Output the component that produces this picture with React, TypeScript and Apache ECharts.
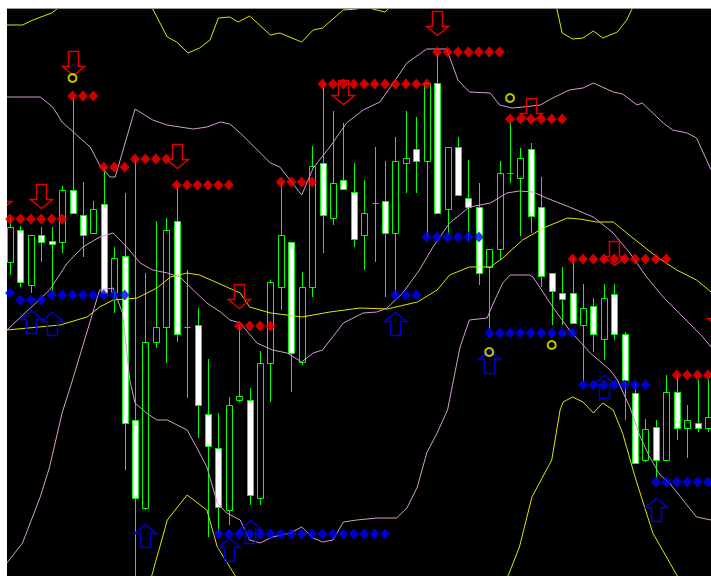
import React, { useEffect, useRef } from "react";
import * as echarts from "echarts";

// Bars: [open, close, low, high] (price units), one per bar index 0..67
const candles: number[][] = [
  [314, 349, 301, 358], [346, 294, 289, 350], [291, 341, 283, 341], [341, 334, 314, 349],
  [335, 332, 284, 349], [334, 386, 323, 390], [386, 363, 363, 479], [361, 341, 319, 394],
  [343, 367, 343, 375], [372, 283, 281, 409], [284, 318, 263, 329], [320, 153, 106, 383],
  [156, 78, -14, 416], [68, 234, 66, 303], [234, 249, 228, 355], [249, 346, 213, 358],
  [355, 242, 234, 391], [249, 249, 178, 306], [251, 171, 138, 268], [162, 130, 39, 217],
  [128, 69, 43, 163], [66, 171, 51, 179], [176, 180, 174, 251], [176, 81, 71, 188],
  [78, 213, 71, 225], [213, 294, 174, 296], [289, 341, 266, 394], [334, 223, 184, 334],
  [214, 289, 211, 304], [289, 410, 279, 430], [413, 361, 323, 493], [358, 393, 351, 465],
  [396, 387, 387, 453], [384, 337, 329, 413], [341, 363, 306, 396], [373, 373, 314, 429],
  [375, 343, 279, 415], [343, 415, 281, 439], [413, 418, 383, 465], [427, 415, 383, 459],
  [415, 493, 339, 493], [493, 363, 363, 523], [367, 429, 341, 429], [429, 381, 381, 439],
  [378, 369, 334, 416], [369, 303, 291, 393], [309, 327, 246, 327], [327, 403, 316, 415],
  [403, 403, 393, 453], [398, 418, 340, 428], [427, 360, 343, 433], [369, 300, 289, 399],
  [303, 285, 251, 303], [283, 277, 251, 309], [283, 253, 253, 318], [251, 268, 193, 292],
  [270, 242, 224, 278], [237, 278, 216, 292], [282, 242, 236, 292], [242, 196, 156, 244],
  [183, 113, 113, 193], [116, 147, 114, 157], [149, 116, 98, 156], [116, 184, 116, 201],
  [184, 148, 136, 201], [148, 156, 118, 171], [153, 148, 144, 196], [148, 159, 144, 196],
];

// Band lines: [bar index, price]
const purpleUpper: number[][] = [
  [-0.3, 479], [2.9, 479], [4.1, 469], [5.0, 454], [6.4, 441], [7.7, 429], [8.6, 411], [9.6, 399],
  [10.1, 399], [12.0, 467], [13.7, 456], [15.1, 451], [16.3, 449], [17.6, 447], [18.9, 449],
  [20.2, 454], [21.1, 452], [22.1, 443], [25.0, 413], [25.9, 409], [28.0, 381], [29.1, 408],
  [30.7, 429], [32.3, 453], [33.9, 466], [35.5, 474], [36.8, 493], [38.1, 513], [40.0, 527],
  [41.9, 527], [43.0, 496], [44.1, 484], [46.1, 483], [47.0, 471], [48.2, 468], [49.2, 469],
  [50.9, 471], [52.1, 478], [53.7, 486], [55.0, 488], [56.0, 493], [57.9, 484], [58.8, 482],
  [60.2, 471], [60.7, 473], [62.7, 453], [63.6, 446], [65.0, 443], [65.9, 438], [67.3, 406],
];
const purpleMiddle: number[][] = [
  [-0.3, 246], [3.8, 286], [5.5, 313], [7.0, 329], [8.6, 339], [9.9, 343], [11.2, 329],
  [12.5, 313], [13.7, 306], [15.1, 303], [16.3, 299], [17.6, 286], [18.9, 273], [20.2, 264],
  [21.1, 256], [22.1, 253], [23.7, 233], [25.2, 226], [26.6, 223], [28.0, 214], [29.1, 223],
  [30.0, 226], [32.0, 253], [33.9, 263], [35.2, 264], [36.2, 268], [37.7, 283], [39.3, 306],
  [40.6, 329], [42.2, 353], [44.1, 369], [46.1, 373], [47.7, 383], [48.9, 385], [50.2, 384],
  [51.5, 378], [53.7, 369], [56.0, 359], [57.9, 343], [59.5, 323], [61.1, 299], [62.7, 279],
  [64.6, 259], [66.5, 239], [67.3, 229],
];
const purpleLower: number[][] = [
  [-0.3, 13], [1.2, 33], [2.9, 79], [3.8, 109], [5.0, 163], [6.0, 196], [8.6, 286], [9.9, 288],
  [10.8, 263], [11.5, 196], [12.0, 173], [13.1, 163], [14.1, 156], [15.1, 156], [17.0, 146],
  [17.9, 129], [18.9, 109], [19.9, 73], [20.8, 63], [22.1, 56], [23.0, 36], [24.0, 33],
  [25.2, 39], [26.9, 43], [28.0, 49], [29.1, 38], [30.0, 34], [31.0, 36], [32.0, 54],
  [33.3, 56], [35.2, 58], [37.1, 58], [38.1, 68], [39.1, 89], [40.0, 123], [41.0, 143],
  [42.0, 166], [43.2, 229], [44.1, 256], [45.8, 258], [46.4, 273], [47.3, 293], [48.0, 301],
  [49.9, 301], [50.2, 299], [52.1, 269], [53.7, 246], [55.7, 223], [57.6, 206], [58.3, 196],
  [59.5, 169], [60.5, 139], [61.4, 119], [62.4, 101], [63.3, 93], [64.6, 76], [65.9, 59],
  [67.3, 56],
];
const yellowUpper: number[][] = [
  [-0.3, 551], [1.2, 551], [2.2, 556], [4.0, 563], [4.5, 567], [6.7, 581], [9.6, 586],
  [12.0, 581], [13.7, 567], [15.1, 539], [16.0, 534], [17.1, 523], [18.2, 528], [19.2, 536],
  [20.0, 558], [21.1, 559], [21.9, 554], [23.0, 560], [25.0, 541], [25.9, 543], [28.0, 534],
  [29.1, 546], [30.0, 548], [32.0, 566], [33.3, 567], [34.1, 571], [34.8, 567], [36.0, 564],
  [36.3, 567], [40.3, 596], [47.0, 596], [50.9, 581], [52.5, 567], [53.0, 543], [54.0, 537],
  [55.0, 538], [56.0, 545], [56.9, 538], [58.3, 544], [59.2, 556], [59.7, 567], [64.3, 596],
  [67.3, 606],
];
const yellowMiddle: number[][] = [
  [-0.3, 246], [4.8, 251], [7.4, 259], [8.6, 269], [9.9, 276], [12.2, 278], [14.1, 288],
  [15.4, 299], [17.0, 303], [18.2, 301], [20.8, 289], [22.1, 283], [23.0, 269], [25.0, 263],
  [26.6, 261], [28.0, 259], [30.7, 264], [33.6, 268], [36.2, 267], [39.1, 274], [41.0, 286],
  [42.2, 301], [44.1, 309], [46.1, 309], [47.3, 318], [49.2, 336], [51.2, 348], [53.5, 358],
  [54.7, 357], [56.3, 354], [57.9, 354], [59.8, 338], [62.1, 319], [64.0, 306], [65.9, 296],
  [67.3, 284],
];
const yellowLower: number[][] = [
  [-0.3, -59], [8.6, -64], [12.5, -24], [13.6, 0], [15.1, 56], [17.0, 81], [18.9, 66],
  [19.9, 29], [21.1, 9], [21.4, 4], [23.0, -24], [27.8, -34], [37.4, -24], [44.1, -24],
  [47.8, 0], [48.9, 29], [50.1, 79], [52.0, 116], [52.8, 166], [53.1, 174], [54.0, 179],
  [55.0, 174], [56.0, 163], [56.9, 173], [57.9, 166], [58.8, 143], [60.0, 99], [61.7, 43],
  [64.0, 1], [67.3, -44],
];

// Level markers: [first bar, last bar, price]
const resistanceLevels: number[][] = [
  [0, 5, 357], [6, 8, 480], [9, 11, 409], [12, 15, 417], [16, 21, 391], [22, 25, 250],
  [26, 29, 394], [30, 40, 492], [41, 47, 524], [48, 53, 457], [54, 63, 317], [64, 67, 201],
];
const supportLevels: number[][] = [
  [0, 0, 283], [1, 3, 276], [4, 11, 281], [20, 36, 42], [37, 39, 281], [40, 45, 339],
  [46, 54, 243], [55, 61, 191], [62, 67, 94],
];

// Signal arrows: [bar, tip price]
const sellArrows: number[][] = [
  [-1, 366], [3, 368], [6, 501], [16, 408], [22, 268], [32, 472], [41, 541], [50, 454],
  [58, 311], [68, 249],
];
const buyArrows: number[][] = [
  [2, 266], [4, 264], [13, 52], [21, 38], [23, 56], [37, 264], [46, 226], [57, 201], [62, 78],
];
// Small rings: [bar, price]
const rings: number[][] = [[6, 498], [48, 478], [46, 224], [52, 231]];

const GREEN = "#00ff00";
const PURPLE = "#d49cd4";
const YELLOW = "#e4e400";

function expandLevels(levels: number[][]) {
  const out: number[][] = [];
  levels.forEach(([a, b, v]) => {
    for (let i = a; i <= b; i++) out.push([i, v]);
  });
  return out;
}

export default function App() {
  const ref = useRef<HTMLDivElement>(null);
  useEffect(() => {
    if (!ref.current) return;
    const chart = echarts.init(ref.current, undefined, { renderer: "svg" });
    const candleData = candles.map((c, i) => [i, c[0], c[1], c[2], c[3]]);
    const lineSeries = (data: number[][], color: string) => ({
      type: "line",
      data,
      showSymbol: false,
      symbol: "none",
      silent: true,
      clip: true,
      z: 3,
      lineStyle: { color, width: 1 },
    });
    const option: any = {
      animation: false,
      backgroundColor: "#ffffff",
      grid: { left: 7, top: 9, right: 0, bottom: 0, show: true, backgroundColor: "#000000", borderWidth: 0 },
      xAxis: { type: "value", min: -0.288, max: 67.288, show: false },
      yAxis: { type: "value", min: 0, max: 567, show: false },
      graphic: [
        { type: "line", shape: { x1: 7, y1: 8.5, x2: 711, y2: 8.5 }, style: { stroke: "#9a9a9a", lineWidth: 1 }, z: 10 },
      ],
      series: [
        {
          type: "custom",
          data: candleData,
          encode: { x: 0, y: [1, 2, 3, 4] },
          clip: true,
          z: 2,
          silent: true,
          renderItem: (params: any, api: any) => {
            const idx = api.value(0);
            const o = api.value(1), c = api.value(2), l = api.value(3), h = api.value(4);
            const pH = api.coord([idx, h]);
            const pL = api.coord([idx, l]);
            const pO = api.coord([idx, o]);
            const pC = api.coord([idx, c]);
            const x = Math.round(pH[0]) + 0.5;
            const top = Math.round(Math.min(pO[1], pC[1])) + 0.5;
            const bot = Math.round(Math.max(pO[1], pC[1])) + 0.5;
            const children: any[] = [
              { type: "line", shape: { x1: x, y1: pH[1], x2: x, y2: pL[1] }, style: { stroke: GREEN, lineWidth: 1 } },
            ];
            if (bot - top < 1) {
              children.push({ type: "line", shape: { x1: x - 3, y1: top, x2: x + 3, y2: top }, style: { stroke: GREEN, lineWidth: 1 } });
            } else {
              children.push({
                type: "rect",
                shape: { x: x - 3, y: top, width: 6, height: bot - top },
                style: { fill: c > o ? "#000000" : "#ffffff", stroke: GREEN, lineWidth: 1 },
              });
            }
            return { type: "group", children };
          },
        },
        lineSeries(yellowUpper, YELLOW),
        lineSeries(yellowMiddle, YELLOW),
        lineSeries(yellowLower, YELLOW),
        lineSeries(purpleUpper, PURPLE),
        lineSeries(purpleMiddle, PURPLE),
        lineSeries(purpleLower, PURPLE),
        {
          type: "scatter",
          data: expandLevels(resistanceLevels),
          symbol: "diamond",
          symbolSize: [10, 11],
          silent: true,
          z: 4,
          itemStyle: { color: "#ff0000" },
        },
        {
          type: "scatter",
          data: expandLevels(supportLevels),
          symbol: "diamond",
          symbolSize: [10, 11],
          silent: true,
          z: 4,
          itemStyle: { color: "#0000ff" },
        },
        {
          type: "custom",
          data: sellArrows,
          encode: { x: 0, y: 1 },
          clip: true,
          z: 5,
          silent: true,
          renderItem: (params: any, api: any) => {
            const p = api.coord([api.value(0), api.value(1)]);
            const cx = Math.round(p[0]) + 0.5, ty = Math.round(p[1]) + 0.5;
            return {
              type: "polygon",
              shape: { points: [[cx, ty], [cx - 11, ty - 9], [cx - 5, ty - 9], [cx - 5, ty - 24], [cx + 5, ty - 24], [cx + 5, ty - 9], [cx + 11, ty - 9]] },
              style: { fill: "none", stroke: "#e00000", lineWidth: 1.5 },
            };
          },
        },
        {
          type: "custom",
          data: buyArrows,
          encode: { x: 0, y: 1 },
          clip: true,
          z: 5,
          silent: true,
          renderItem: (params: any, api: any) => {
            const p = api.coord([api.value(0), api.value(1)]);
            const cx = Math.round(p[0]) + 0.5, ty = Math.round(p[1]) + 0.5;
            return {
              type: "polygon",
              shape: { points: [[cx, ty], [cx + 11, ty + 9], [cx + 5, ty + 9], [cx + 5, ty + 23], [cx - 5, ty + 23], [cx - 5, ty + 9], [cx - 11, ty + 9]] },
              style: { fill: "none", stroke: "#0000d0", lineWidth: 1.5 },
            };
          },
        },
        {
          type: "scatter",
          data: rings,
          symbol: "circle",
          symbolSize: 8,
          silent: true,
          z: 6,
          itemStyle: { color: "rgba(0,0,0,0)", borderColor: "#f2f200", borderWidth: 2 },
        },
      ],
    };
    chart.setOption(option);
    return () => chart.dispose();
  }, []);
  return (
    <div
      ref={ref}
      style={{ position: "fixed", left: 0, top: 0, width: 711, height: 576, background: "#ffffff" }}
    />
  );
}
